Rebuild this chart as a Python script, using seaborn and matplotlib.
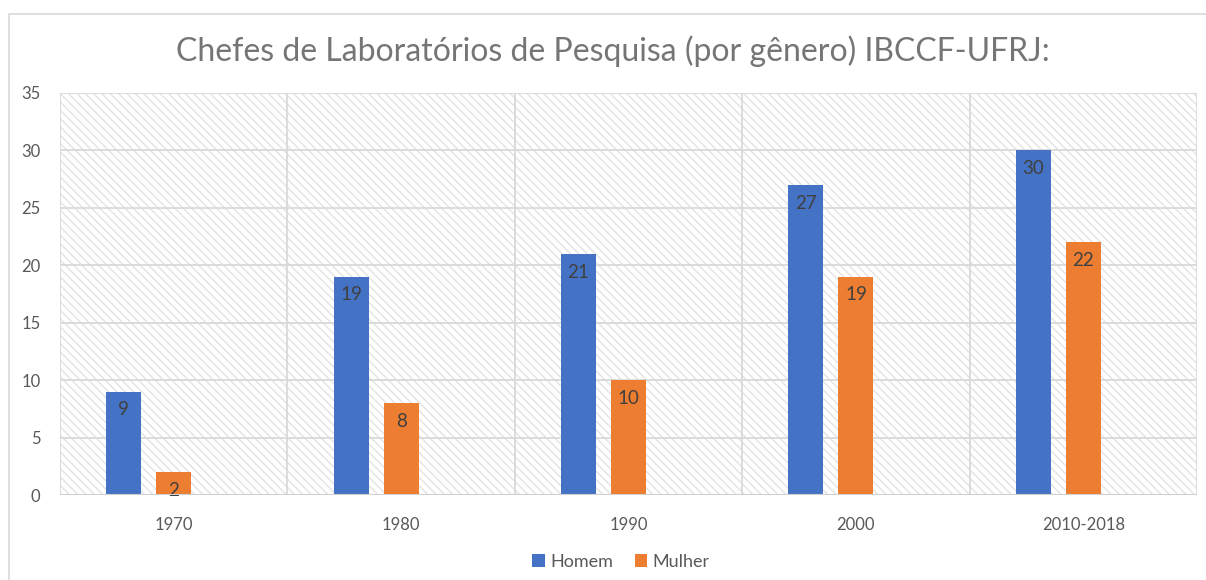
import pandas as pd
import matplotlib.pyplot as plt
import seaborn as sns
from matplotlib.patches import Patch, Rectangle

# dados
anos = ["1970", "1980", "1990", "2000", "2010-2018"]
homem = [9, 19, 21, 27, 30]
mulher = [2, 8, 10, 19, 22]
series = ["Homem", "Mulher"]
cores = {"Homem": "#4472C4", "Mulher": "#ED7D31", " ": "#FFFFFF"}

df = pd.DataFrame({
    "ano": anos * 2,
    "genero": ["Homem"] * len(anos) + ["Mulher"] * len(anos),
    "valor": homem + mulher,
})

sns.set_style("white")
plt.rcParams["font.family"] = ["Lato", "DejaVu Sans"]
plt.rcParams["hatch.linewidth"] = 1.0

fig = plt.figure(figsize=(12.06, 5.8), dpi=100)
ax = fig.add_axes([60 / 1206, 1 - 495 / 580, (1197 - 60) / 1206, (495 - 93) / 580])

# fundo hachurado do plot
ax.patch.set_facecolor("white")
ax.patch.set_hatch("\\\\\\\\")
ax.patch.set_edgecolor("#e3e3e3")

# terceira serie vazia para deixar o espaco a direita (como no Excel)
sns.barplot(data=df, x="ano", y="valor", hue="genero", order=anos,
            hue_order=["Homem", "Mulher", " "], palette=cores,
            width=0.66, gap=0.3, dodge=True, legend=False, ax=ax,
            saturation=1, linewidth=0, err_kws={"linewidth": 0})

for c in ax.containers:
    txts = ax.bar_label(c, padding=-7, fontsize=13.5, color="#404040")
    for t in txts:
        t.set_va("top")

ax.set_ylim(0, 35)
ax.set_yticks(range(0, 36, 5))
ax.set_xlim(-0.5, len(anos) - 0.5)
ax.set_axisbelow(True)
ax.yaxis.grid(True, color="#d9d9d9", linewidth=1.3)
for i in range(len(anos) + 1):
    ax.axvline(i - 0.5, color="#d9d9d9", linewidth=1.3, zorder=0.5)
for s in ax.spines.values():
    s.set_visible(False)
ax.axhline(0, color="#d0d0d0", linewidth=1.5, zorder=3)

ax.set_xlabel("")
ax.set_ylabel("")
ax.tick_params(axis="both", length=0, labelsize=12, colors="#595959")
ax.tick_params(axis="x", pad=16)
ax.tick_params(axis="y", pad=14)

fig.text(0.508, 0.912, "Chefes de Laboratórios de Pesquisa (por gênero) IBCCF-UFRJ:",
         ha="center", va="center", fontsize=23, color="#757575")

handles = [Patch(facecolor=cores[s], edgecolor="none", label=s) for s in series]
fig.legend(handles=handles, loc="center", bbox_to_anchor=(0.515, 0.031), ncol=2,
           frameon=False, fontsize=13, handlelength=0.7, handleheight=0.7,
           handletextpad=0.3, columnspacing=1.2, labelcolor="#595959")

# borda externa do grafico
fig.patches.append(Rectangle((9 / 1206, -0.1), 1.2, 1 - 14 / 580 + 0.1,
                             transform=fig.transFigure, fill=False,
                             edgecolor="#d9d9d9", linewidth=1.2))

fig.savefig("out.png", dpi=100)
